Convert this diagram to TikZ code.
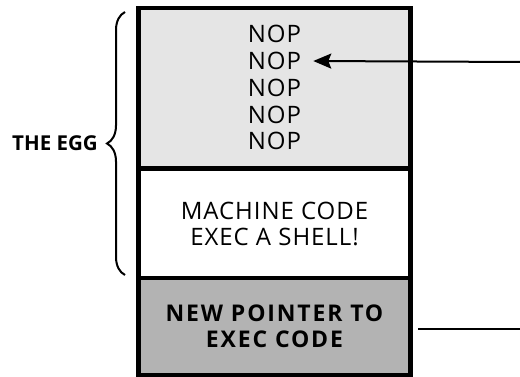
\documentclass[tikz,border=0pt]{standalone}
\usepackage{fontspec}
\setmainfont{Open Sans}
\usetikzlibrary{arrows.meta,decorations.pathreplacing}
\definecolor{noplite}{HTML}{E5E5E5}
\definecolor{ptrgray}{HTML}{B3B3B3}
\begin{document}
\begin{tikzpicture}[x=1pt,y=-1pt,
  cell/.style={draw=black,line width=4.5pt,inner sep=0pt,outer sep=0pt,minimum width=272pt},
  txt/.style={font=\fontsize{24}{25.5}\selectfont\addfontfeatures{LetterSpace=4},align=center,inner sep=0pt},
  btxt/.style={font=\bfseries\fontsize{23}{26}\selectfont\addfontfeatures{LetterSpace=8},align=center,inner sep=0pt},
  conn/.style={line width=2pt}]
\useasboundingbox (0,0) rectangle (520,377);
% cells
\node[cell,fill=noplite,minimum height=160.5pt] (egg) at (274.5,88.25) {};
\node[cell,fill=white,minimum height=109.5pt,txt] (code) at (274.5,224) {MACHINE CODE\\EXEC A SHELL!};
\node[cell,fill=ptrgray,minimum height=97pt,btxt] (ptr) at (274.5,326.5) {NEW POINTER TO\\EXEC CODE};
% NOP lines
\node[txt] (nop1) at (274.5,34) {NOP};
\node[txt] (nop2) at (274.5,61) {NOP};
\node[txt] (nop3) at (274.5,88) {NOP};
\node[txt] (nop4) at (274.5,114.5) {NOP};
\node[txt] (nop5) at (274.5,141) {NOP};
% brace and label
\coordinate (bbot) at (125,275);
\coordinate (btop) at (125,12);
\draw[line width=2pt,decorate,decoration={brace,amplitude=18pt}] (bbot) -- (btop);
\node[font=\bfseries\fontsize{20.5}{24}\selectfont,inner sep=0pt] (egglabel) at (55,143) {THE EGG};
% connectors
\coordinate (pin1) at (520,62);
\coordinate (pin2) at (520,329);
\draw[conn,-{Stealth[length=18pt,width=15pt,inset=3pt]}] (pin1) -- ([xshift=12pt]nop2.east);
\draw[conn,shorten >=7.5pt] (pin2) -- (ptr.east |- pin2);
\end{tikzpicture}
\end{document}
